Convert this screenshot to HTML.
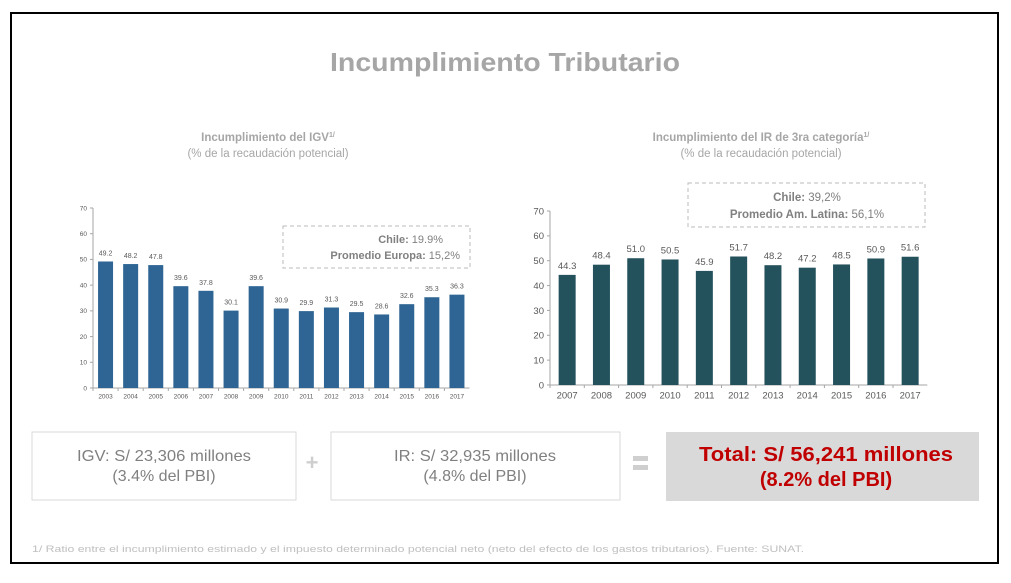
<!DOCTYPE html>
<html><head><meta charset="utf-8"><style>
html,body{margin:0;padding:0;background:#fff;}
svg{display:block;font-family:"Liberation Sans",Arial,sans-serif;}
</style></head><body>
<svg id="s" width="1011" height="583" viewBox="0 0 1011 583">
<rect x="11" y="13" width="987" height="550" fill="#fff" stroke="#000" stroke-width="2"/>
<text x="505" y="71" text-anchor="middle" font-size="26" font-weight="bold" fill="#a6a6a6" textLength="350" lengthAdjust="spacingAndGlyphs">Incumplimiento Tributario</text>

<text x="268" y="141" text-anchor="middle" font-size="11.5" font-weight="bold" fill="#a6a6a6">Incumplimiento del IGV<tspan font-size="7" dy="-4">1/</tspan></text>
<text x="268" y="157" text-anchor="middle" font-size="11.5" fill="#a6a6a6">(% de la recaudación potencial)</text>
<text x="761" y="141" text-anchor="middle" font-size="11.5" font-weight="bold" fill="#a6a6a6">Incumplimiento del IR de 3ra categoría<tspan font-size="7" dy="-4">1/</tspan></text>
<text x="761" y="157" text-anchor="middle" font-size="11.5" fill="#a6a6a6">(% de la recaudación potencial)</text>

<g id="c1"></g>
<g id="c2"></g>

<rect x="283" y="226" width="187" height="42" fill="none" stroke="#bbb" stroke-dasharray="4,3"/>
<text x="443" y="243" text-anchor="end" font-size="11" fill="#808080"><tspan font-weight="bold">Chile:</tspan> 19.9%</text>
<text x="460" y="259" text-anchor="end" font-size="11" fill="#808080"><tspan font-weight="bold">Promedio Europa:</tspan> 15,2%</text>

<rect x="688" y="183" width="237" height="44" fill="none" stroke="#bbb" stroke-dasharray="4,3"/>
<text x="807" y="201" text-anchor="middle" font-size="11.5" fill="#808080"><tspan font-weight="bold">Chile:</tspan> 39,2%</text>
<text x="807" y="218" text-anchor="middle" font-size="11.5" fill="#808080"><tspan font-weight="bold">Promedio Am. Latina:</tspan> 56,1%</text>

<rect x="32" y="432" width="264" height="68" fill="#fff" stroke="#d9d9d9"/>
<text x="164" y="461" text-anchor="middle" font-size="16" fill="#808080" textLength="174" lengthAdjust="spacingAndGlyphs">IGV: S/ 23,306 millones</text>
<text x="164" y="481" text-anchor="middle" font-size="16" fill="#808080">(3.4% del PBI)</text>
<text x="312" y="470" text-anchor="middle" font-size="22" font-weight="bold" fill="#cfcfcf">+</text>
<rect x="331" y="432" width="289" height="68" fill="#fff" stroke="#d9d9d9"/>
<text x="475" y="461" text-anchor="middle" font-size="16" fill="#808080" textLength="162" lengthAdjust="spacingAndGlyphs">IR: S/ 32,935 millones</text>
<text x="475" y="481" text-anchor="middle" font-size="16" fill="#808080">(4.8% del PBI)</text>
<rect x="633" y="456" width="15" height="5" fill="#cfcfcf"/>
<rect x="633" y="465" width="15" height="5" fill="#cfcfcf"/>
<rect x="666" y="432" width="313" height="69" fill="#d9d9d9"/>
<text x="826" y="461" text-anchor="middle" font-size="20" font-weight="bold" fill="#c00000" textLength="254" lengthAdjust="spacingAndGlyphs">Total: S/ 56,241 millones</text>
<text x="826" y="486" text-anchor="middle" font-size="20" font-weight="bold" fill="#c00000">(8.2% del PBI)</text>

<text x="32" y="552" font-size="9.5" fill="#bfbfbf" textLength="772" lengthAdjust="spacingAndGlyphs">1/ Ratio entre el incumplimiento estimado y el impuesto determinado potencial neto (neto del efecto de los gastos tributarios). Fuente: SUNAT.</text>
</svg>
<script>
const igvYears = ["2003","2004","2005","2006","2007","2008","2009","2010","2011","2012","2013","2014","2015","2016","2017"];
const igvValues = [49.2,48.2,47.8,39.6,37.8,30.1,39.6,30.9,29.9,31.3,29.5,28.6,32.6,35.3,36.3];
const irYears = ["2007","2008","2009","2010","2011","2012","2013","2014","2015","2016","2017"];
const irValues = [44.3,48.4,51.0,50.5,45.9,51.7,48.2,47.2,48.5,50.9,51.6];
const yTicks = [0,10,20,30,40,50,60,70];

const NS = "http://www.w3.org/2000/svg";
function mk(tag, attrs, parent, txt){
  const e = document.createElementNS(NS, tag);
  for (const k in attrs) e.setAttribute(k, attrs[k]);
  if (txt !== undefined) e.textContent = txt;
  parent.appendChild(e);
  return e;
}
function draw(g, cats, vals, o){
  const y = v => o.y0 - (v/70)*(o.y0 - o.y70);
  const x = i => o.x0 + o.step*(i+0.5);
  const axisY = mk('line',{x1:o.x0,y1:o.y70,x2:o.x0,y2:o.y0,stroke:'#a6a6a6'},g);
  
  
  const axisX = mk('line',{x1:o.x0,y1:o.y0,x2:o.x0+o.step*cats.length,y2:o.y0,stroke:'#a6a6a6'},g);
  
  
  yTicks.forEach(t=>{
    const tk = mk('line',{x1:o.x0-3,y1:y(t),x2:o.x0,y2:y(t),stroke:'#a6a6a6'},g);
    
    
    const tl = mk('text',{x:o.x0-6,y:y(t)+o.tf*0.35,'text-anchor':'end','font-size':o.tf,fill:'#595959'},g,String(t));
    
    
  });
  cats.forEach((c,i)=>{
    const v = vals[i];
    const b = mk('rect',{x:x(i)-o.bw/2,y:y(v),width:o.bw,height:o.y0-y(v),fill:o.color},g);
    
    
    const vl = mk('text',{x:x(i),y:y(v)-6,'text-anchor':'middle','font-size':o.vf,fill:'#595959'},g,v.toFixed(1));
    
    
    const xl = mk('text',{x:x(i),y:o.y0+o.tf+4,'text-anchor':'middle','font-size':o.tf,fill:'#595959'},g,c);
    
    
    const xt = mk('line',{x1:o.x0+o.step*i,y1:o.y0,x2:o.x0+o.step*i,y2:o.y0+3,stroke:'#a6a6a6'},g);
    
    
  });
}
draw(document.getElementById('c1'), igvYears, igvValues, {x0:93,y0:388,y70:208,step:25.1,bw:15,color:'#2e6594',tf:6.5,vf:7});
draw(document.getElementById('c2'), irYears, irValues, {x0:550,y0:385,y70:211,step:34.3,bw:17,color:'#24525c',tf:9.5,vf:9.5});
</script>
</body></html>
